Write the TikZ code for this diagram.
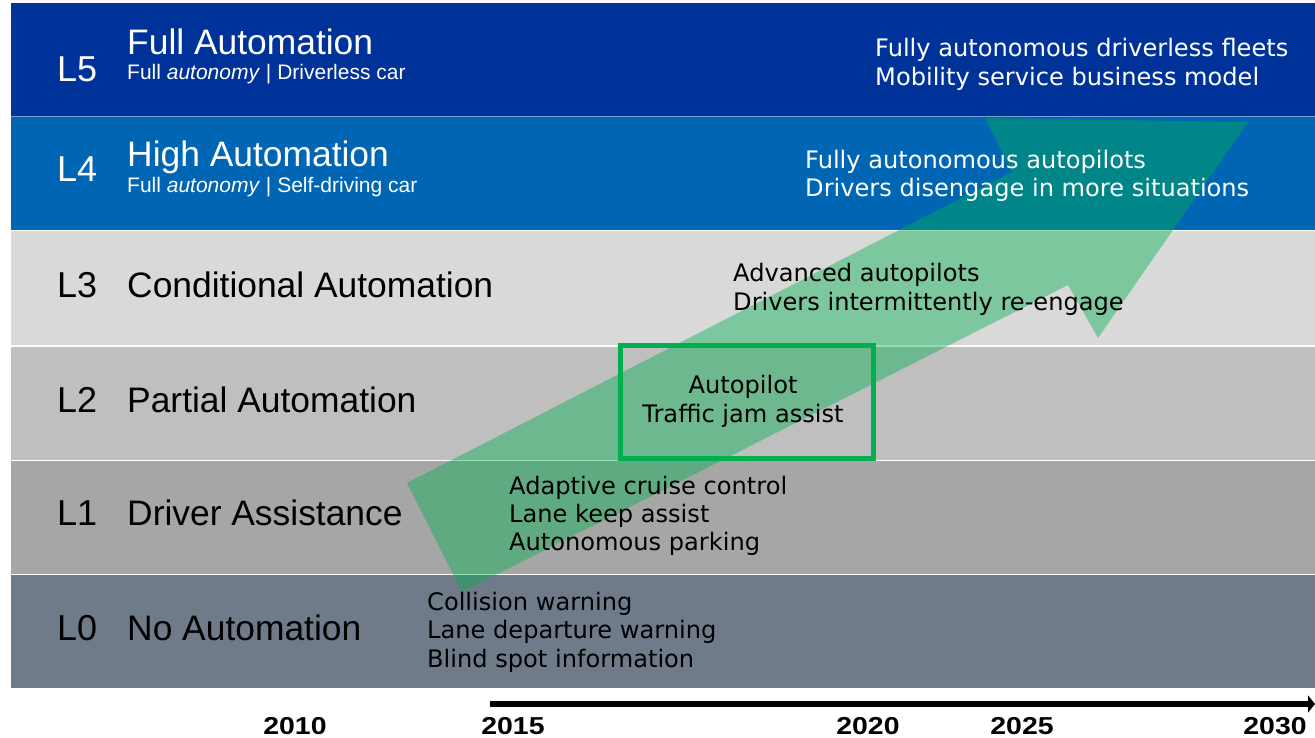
\documentclass[tikz,border=0pt]{standalone}
\usepackage{fontspec}
\setmainfont{Liberation Sans}
\newfontfamily\verd{DejaVu Sans}
\usetikzlibrary{arrows.meta}
\definecolor{cLfive}{RGB}{0,51,153}
\definecolor{cLfour}{RGB}{0,102,179}
\definecolor{cLthree}{RGB}{217,217,217}
\definecolor{cLtwo}{RGB}{191,191,191}
\definecolor{cLone}{RGB}{166,166,166}
\definecolor{cLzero}{RGB}{112,123,138}
\definecolor{sepblue}{RGB}{120,160,215}
\definecolor{agreen}{RGB}{0,176,80}
\newcommand{\yr}[1]{\scalebox{1.16}[1]{#1}}
\tikzset{
  lvl/.style={anchor=base west, inner sep=0pt, font=\fontsize{36}{40}\selectfont},
  ttl/.style={anchor=base west, inner sep=0pt, font=\fontsize{35.4}{40}\selectfont},
  sub/.style={anchor=base west, inner sep=0pt, font=\fontsize{21}{24}\selectfont},
  desc/.style={anchor=base west, inner sep=0pt, font=\verd\fontsize{24.1}{28.5}\selectfont},
  descc/.style={anchor=base, inner sep=0pt, font=\verd\fontsize{24.1}{28.5}\selectfont},
  year/.style={anchor=base, inner sep=0pt, font=\bfseries\fontsize{24.5}{30}\selectfont},
  band/.style={draw=none}
}
\begin{document}
\begin{tikzpicture}[x=1pt,y=-1pt]
\useasboundingbox (0,0) rectangle (1315,738);
\fill[white] (0,0) rectangle (1315,738);
% bands
\fill[cLfive]  (11,3)     rectangle (1315,116);
\fill[sepblue] (11,116)   rectangle (1315,117.5);
\fill[cLfour]  (11,117.5) rectangle (1315,230);
\fill[cLthree] (11,231.5) rectangle (1315,345);
\fill[cLtwo]   (11,346.5) rectangle (1315,459.5);
\fill[cLone]   (11,461)   rectangle (1315,573.5);
\fill[cLzero]  (11,575)   rectangle (1315,688);
% big arrow
\fill[agreen, fill opacity=0.42] (407,483) -- (1012,172) -- (985,118) -- (1248,122) -- (1098,338) -- (1068,285) -- (462,592) -- cycle;
% level labels
\node[lvl, white] (n5) at (57,82) {L5};
\node[ttl, white] (t5) at (127,55) {Full Automation};
\node[sub, white] (s5) at (127,80) {Full \textit{autonomy} | Driverless car};
\node[lvl, white] (n4) at (57,182) {L4};
\node[ttl, white] (t4) at (127,167) {High Automation};
\node[sub, white] (s4) at (127,193) {Full \textit{autonomy} | Self-driving car};
\node[lvl] (n3) at (57,298) {L3};
\node[ttl] (t3) at (127,298) {Conditional Automation};
\node[lvl] (n2) at (57,412) {L2};
\node[ttl] (t2) at (127,412) {Partial Automation};
\node[lvl] (n1) at (57,525) {L1};
\node[ttl] (t1) at (127,525) {Driver Assistance};
\node[lvl] (n0) at (57,640) {L0};
\node[ttl] (t0) at (127,640) {No Automation};
% descriptions
\node[desc, white] (d5a) at (875,57) {Fully autonomous driverless fleets};
\node[desc, white] (d5b) at (875,86) {Mobility service business model};
\node[desc, white] (d4a) at (805,169) {Fully autonomous autopilots};
\node[desc, white] (d4b) at (805,197) {Drivers disengage in more situations};
\node[desc] (d3a) at (733,282) {Advanced autopilots};
\node[desc] (d3b) at (733,310) {Drivers intermittently re-engage};
\node[draw=agreen, line width=5pt, minimum width=253pt, minimum height=113pt, inner sep=0pt] (box) at (746.5,401.5) {};
\node[descc] (d2a) at (743,393) {Autopilot};
\node[descc] (d2b) at (743,422) {Traffic jam assist};
\node[desc] (d1a) at (509,494) {Adaptive cruise control};
\node[desc] (d1b) at (509,522) {Lane keep assist};
\node[desc] (d1c) at (509,550) {Autonomous parking};
\node[desc] (d0a) at (427,610) {Collision warning};
\node[desc] (d0b) at (427,638) {Lane departure warning};
\node[desc] (d0c) at (427,667) {Blind spot information};
% time axis
\coordinate (axs) at (490,704);
\coordinate (axe) at (1315,704);
\draw[line width=6pt, -{Triangle[length=7pt,width=17pt]}] (axs) -- (axe);
\node[year] (y10) at (295,734) {\yr{2010}};
\node[year] (y15) at (513,734) {\yr{2015}};
\node[year] (y20) at (868,734) {\yr{2020}};
\node[year] (y25) at (1022,734) {\yr{2025}};
\node[year] (y30) at (1275,734) {\yr{2030}};
\end{tikzpicture}
\end{document}
